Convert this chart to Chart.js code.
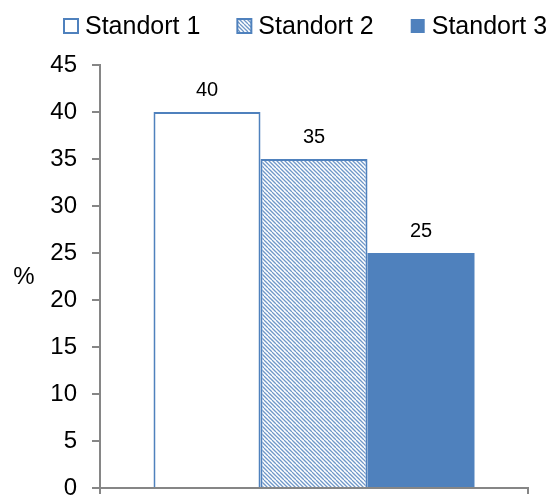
<!DOCTYPE html>
<html>
<head>
<meta charset="utf-8">
<script src="https://cdn.jsdelivr.net/npm/chart.js@4/dist/chart.umd.min.js"></script>
<style>
  html, body { margin: 0; padding: 0; background: #ffffff; }
  canvas { display: block; }
</style>
</head>
<body>
<canvas id="chart" width="552" height="495"></canvas>
<script>
// Share per site, in percent
const categories = [''];
const siteNames = ['Standort 1', 'Standort 2', 'Standort 3'];
const siteValues = [40, 35, 25];
const yTickValues = [0, 5, 10, 15, 20, 25, 30, 35, 40, 45];
const yAxisLabel = '%';

const BLUE = '#4F81BD';
const AXIS = '#868686';
const FONT = '"Liberation Sans", Arial, Helvetica, sans-serif';

// Diagonal "\" hatch used for the second site
function makeHatch() {
  const tile = document.createElement('canvas');
  tile.width = 8; tile.height = 8;
  const c = tile.getContext('2d');
  c.fillStyle = '#ffffff';
  c.fillRect(0, 0, 8, 8);
  c.strokeStyle = '#6F97C8';
  c.lineWidth = 1.25;
  for (let k = -8; k <= 8; k += 4) {
    c.beginPath();
    c.moveTo(k, 0);
    c.lineTo(k + 8, 8);
    c.stroke();
  }
  return document.getElementById('chart').getContext('2d').createPattern(tile, 'repeat');
}
const hatch = makeHatch();

const fills = ['#ffffff', hatch, BLUE];

const datasets = siteNames.map((name, i) => ({
  label: name,
  data: [siteValues[i]],
  backgroundColor: fills[i],
  borderColor: BLUE,
  borderWidth: i === 2 ? 0 : 2,
  borderSkipped: 'start',
  categoryPercentage: 0.75,
  barPercentage: 1.0
}));

// Value labels above bars, y-axis unit label and the legend row
const extras = {
  id: 'extras',
  afterDatasetsDraw(chart) {
    const ctx = chart.ctx;
    ctx.save();
    ctx.fillStyle = '#000000';
    ctx.font = '20px ' + FONT;
    ctx.textAlign = 'center';
    ctx.textBaseline = 'alphabetic';
    chart.data.datasets.forEach((ds, i) => {
      const meta = chart.getDatasetMeta(i);
      meta.data.forEach((bar, j) => {
        ctx.fillText(String(ds.data[j]), bar.x, bar.y - 16);
      });
    });
    ctx.restore();
  },
  afterDraw(chart) {
    const ctx = chart.ctx;
    const area = chart.chartArea;
    ctx.save();
    // unit label left of the value axis
    ctx.fillStyle = '#000000';
    ctx.font = '24px ' + FONT;
    ctx.textAlign = 'center';
    ctx.textBaseline = 'middle';
    ctx.fillText(yAxisLabel, 24, (area.top + area.bottom) / 2 + 1);

    // legend
    ctx.font = '25px ' + FONT;
    ctx.textAlign = 'left';
    const box = 14;
    const cy = 26;
    let x = 64;
    chart.data.datasets.forEach((ds) => {
      ctx.fillStyle = ds.backgroundColor;
      ctx.fillRect(x, cy - box / 2, box, box);
      if (ds.borderWidth > 0) {
        ctx.strokeStyle = ds.borderColor;
        ctx.lineWidth = 2;
        ctx.strokeRect(x, cy - box / 2, box, box);
      }
      ctx.fillStyle = '#000000';
      ctx.fillText(ds.label, x + 21, cy + 1);
      x += 21 + ctx.measureText(ds.label).width + 37;
    });
    ctx.restore();
  }
};

new Chart(document.getElementById('chart'), {
  type: 'bar',
  data: { labels: categories, datasets },
  options: {
    responsive: false,
    animation: false,
    devicePixelRatio: 1,
    layout: { padding: { top: 65, right: 24, bottom: 0, left: 0 } },
    plugins: {
      legend: { display: false },
      tooltip: { enabled: false }
    },
    scales: {
      x: {
        offset: true,
        grid: {
          display: true,
          offset: true,
          drawOnChartArea: false,
          drawTicks: true,
          tickLength: 6,
          color: AXIS,
          lineWidth: 2
        },
        border: { display: true, color: AXIS, width: 2 },
        ticks: { display: false },
        afterFit(scale) { scale.height = 7; }
      },
      y: {
        min: yTickValues[0],
        max: yTickValues[yTickValues.length - 1],
        afterBuildTicks(scale) {
          scale.ticks = yTickValues.map(v => ({ value: v }));
        },
        grid: {
          display: true,
          drawOnChartArea: false,
          drawTicks: true,
          tickLength: 8,
          color: AXIS,
          lineWidth: 2
        },
        border: { display: true, color: AXIS, width: 2 },
        ticks: {
          color: '#000000',
          padding: 15,
          font: { family: FONT, size: 24 }
        },
        afterFit(scale) {
          scale.width = 100;
          scale.paddingTop = 0;
          scale.paddingBottom = 0;
        }
      }
    }
  },
  plugins: [extras]
});
</script>
</body>
</html>
